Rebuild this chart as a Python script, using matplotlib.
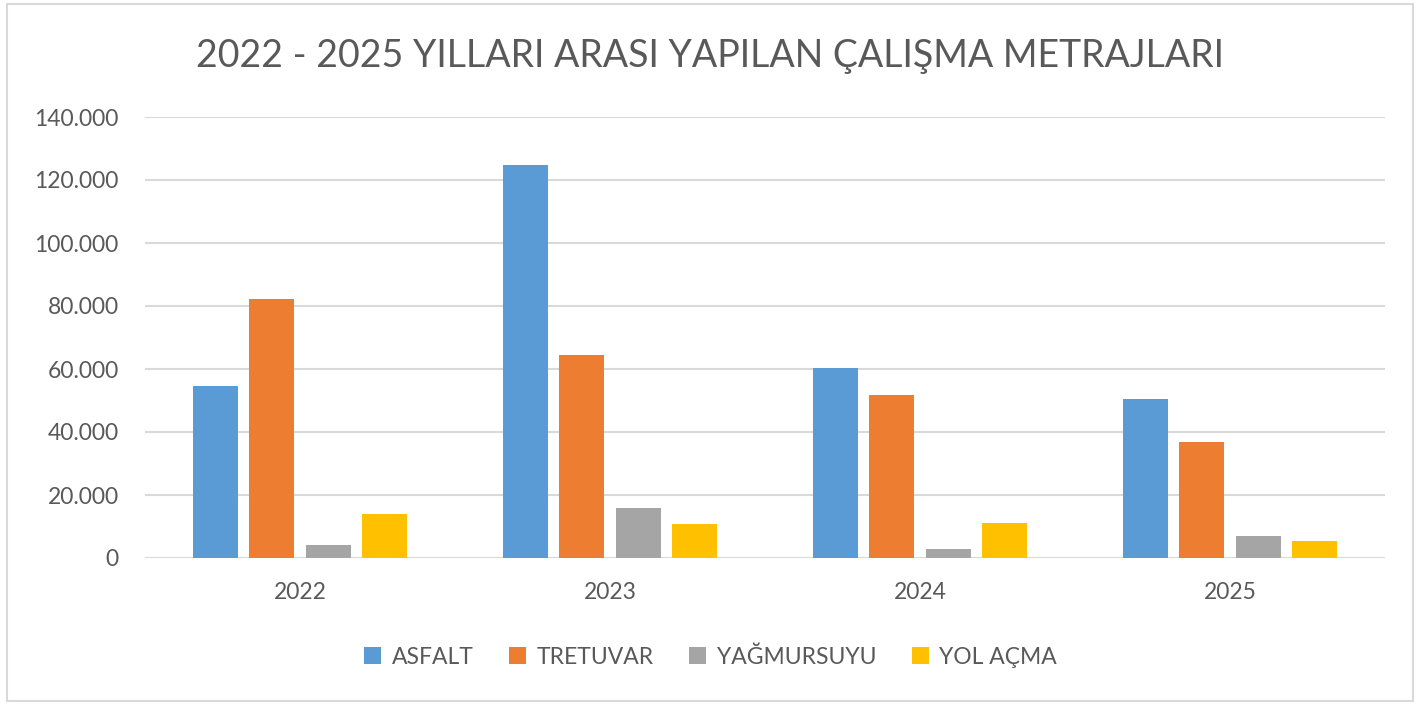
import numpy as np
import matplotlib.pyplot as plt
from matplotlib.patches import Rectangle
from matplotlib.ticker import FuncFormatter

years = ['2022', '2023', '2024', '2025']
series = ['ASFALT', 'TRETUVAR', 'YAĞMURSUYU', 'YOL AÇMA']
asfalt = [54500, 124900, 60200, 50400]
tretuvar = [82200, 64500, 51800, 36800]
yagmursuyu = [4200, 15900, 3000, 7000]
yol_acma = [13900, 10900, 11200, 5500]
colors = ['#5B9BD5', '#ED7D31', '#A5A5A5', '#FFC000']

plt.rcParams['font.family'] = ['Lato', 'DejaVu Sans']
text_color = '#595959'

fig = plt.figure(figsize=(14.21, 7.04), dpi=100)
ax = fig.add_axes([145 / 1421, 1 - 558 / 704, 1240 / 1421, 441 / 704])

x = np.arange(len(years))
width = 0.145
step = 0.182
for i, (name, vals) in enumerate(zip(series, [asfalt, tretuvar, yagmursuyu, yol_acma])):
    ax.bar(x + (i - 1.5) * step, vals, width, color=colors[i], label=name, zorder=3)

ax.set_xlim(-0.5, 3.5)
ax.set_ylim(0, 140000)
ax.set_yticks(np.arange(0, 140001, 20000))
ax.yaxis.set_major_formatter(FuncFormatter(lambda v, p: f'{int(v):,}'.replace(',', '.')))
ax.set_xticks(x)
ax.set_xticklabels(years)
ax.grid(axis='y', color='#D9D9D9', linewidth=1.5, zorder=0)
for s in ax.spines.values():
    s.set_visible(False)
ax.tick_params(length=0, labelsize=16.5, colors=text_color)
ax.tick_params(axis='y', pad=19)
ax.tick_params(axis='x', pad=17)

fig.text(0.5, 1 - 56 / 704, '2022 - 2025 YILLARI ARASI YAPILAN ÇALIŞMA METRAJLARI',
         ha='center', va='center', fontsize=27, color=text_color)

leg = fig.legend(loc='center', bbox_to_anchor=(0.5, 1 - 657 / 704), ncol=4, frameon=False,
                 fontsize=16.5, handlelength=0.75, handleheight=0.75, columnspacing=1.55,
                 handletextpad=0.45)
for t in leg.get_texts():
    t.set_color(text_color)

fig.patches.append(Rectangle((7 / 1421, 3 / 704), 1406 / 1421, 697 / 704,
                             transform=fig.transFigure, fill=False,
                             edgecolor='#D9D9D9', linewidth=1.5))

fig.savefig('out.png', dpi=100)
